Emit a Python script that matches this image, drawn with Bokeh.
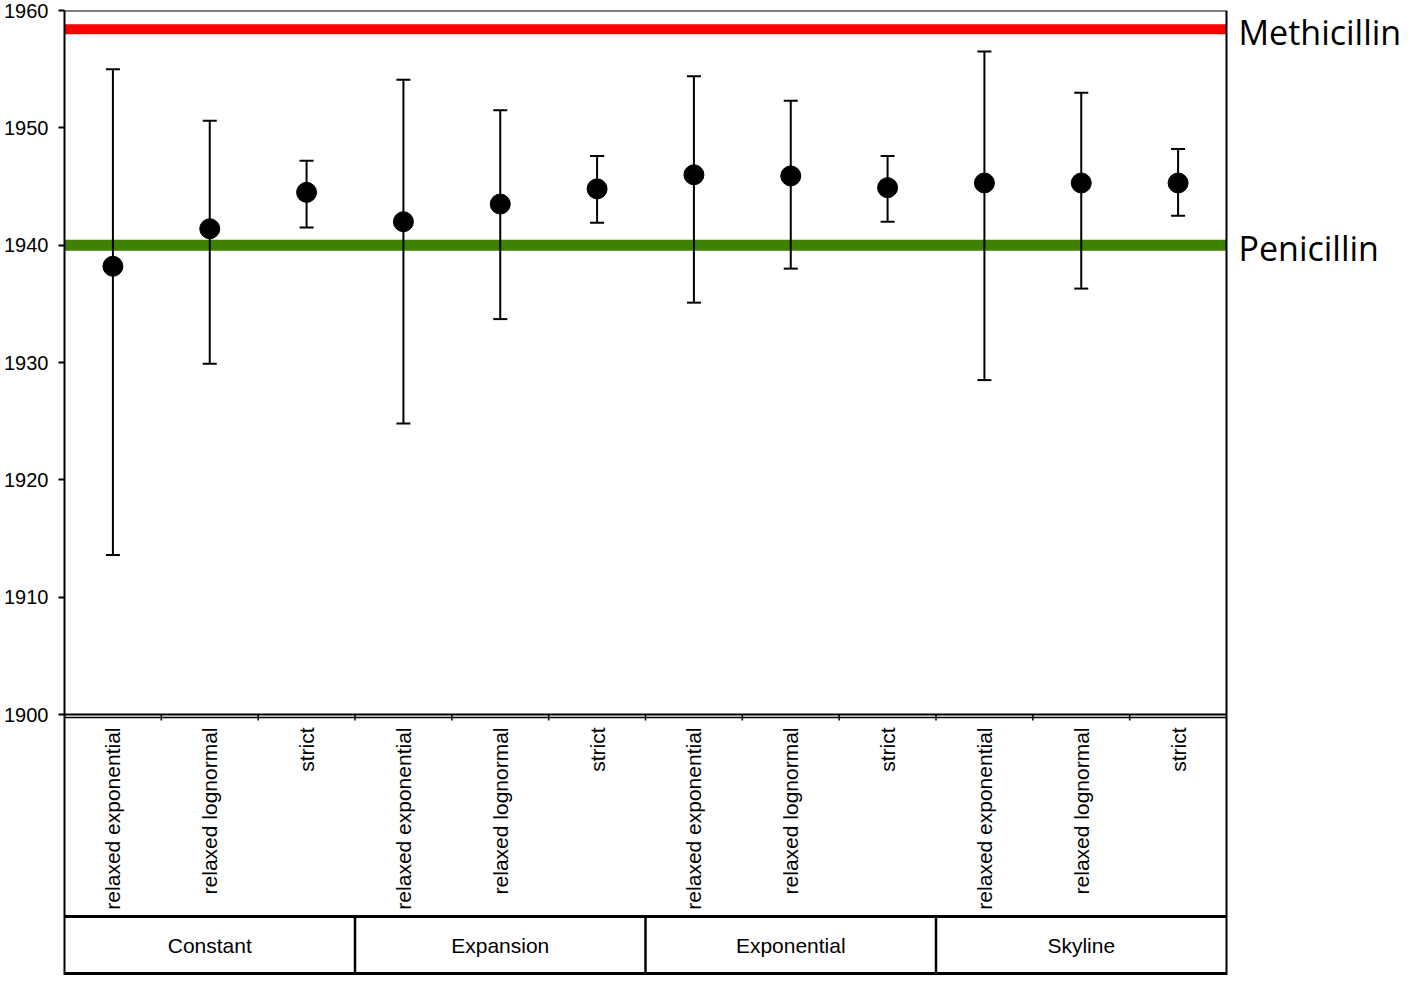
import math
from bokeh.plotting import figure
from bokeh.models import Range1d, ColumnDataSource, Whisker, TeeHead, FixedTicker
from bokeh.embed import file_html
from bokeh.resources import INLINE
from bokeh.core.properties import value

# ---------------- data ----------------
groups = ["Constant", "Expansion", "Exponential", "Skyline"]
clocks = ["relaxed exponential", "relaxed lognormal", "strict"]
tmrca = [1938.2, 1941.4, 1944.5, 1942.0, 1943.5, 1944.8,
         1946.0, 1945.9, 1944.9, 1945.3, 1945.3, 1945.3]
upper = [1955.0, 1950.6, 1947.2, 1954.1, 1951.5, 1947.6,
         1954.4, 1952.3, 1947.6, 1956.5, 1953.0, 1948.2]
lower = [1913.6, 1929.9, 1941.5, 1924.8, 1933.7, 1941.9,
         1935.1, 1938.0, 1942.0, 1928.5, 1936.3, 1942.5]
ref_names = ["Methicillin", "Penicillin"]
ref_years = [1958.4, 1940.0]
ref_colors = ["#ff0000", "#3f8000"]
y_ticks = [1900, 1910, 1920, 1930, 1940, 1950, 1960]

# ---------------- layout ----------------
W, H = 1402, 975
LEFT, TOP = 64, 10
PLOT_W, PLOT_H = 1162, 704
LABEL_ROW, BOTTOM_LINE = 202, 259
Y0, Y1 = y_ticks[0], y_ticks[-1]
n = len(groups) * len(clocks)
ppx = PLOT_W / n                  # px per category
ppy = PLOT_H / (Y1 - Y0)          # px per year
x_end = (W - LEFT) / ppx
y_start = Y1 - (H - TOP) / ppy


def below(px):
    """data-y of a point px pixels below the 1900 baseline"""
    return Y0 - px / ppy


FONT = value("Liberation Sans")

p = figure(width=W, height=H, x_range=Range1d(0, x_end), y_range=Range1d(y_start, Y1),
           output_backend="svg", toolbar_location=None, x_axis_location=None,
           min_border_left=LEFT, min_border_right=0, min_border_top=TOP, min_border_bottom=0,
           outline_line_color=None)
p.grid.grid_line_color = None
p.background_fill_color = "white"
p.border_fill_color = "white"

ax = p.yaxis[0]
ax.ticker = FixedTicker(ticks=y_ticks)
ax.axis_line_width = 2
ax.axis_line_color = "black"
ax.major_tick_line_width = 2
ax.major_tick_line_color = "black"
ax.major_tick_out = 6
ax.major_tick_in = 0
ax.minor_tick_line_color = None
ax.major_label_text_font = "Liberation Sans"
ax.major_label_text_font_size = "20px"
ax.major_label_text_color = "black"
ax.major_label_standoff = 10

# reference lines
for name, yr, col in zip(ref_names, ref_years, ref_colors):
    r = p.segment(x0=[0], x1=[n], y0=[yr], y1=[yr], line_color=col,
                  line_width=10 if col == "#ff0000" else 11)
    r.level = "underlay"
p.text(x=[n] * len(ref_names), y=ref_years, text=ref_names, x_offset=12, y_offset=3,
       text_font=value("Open Sans"), text_font_size="34px", text_color="black",
       text_align="left", text_baseline="middle")

# frame borders
p.segment(x0=[0], x1=[n], y0=[Y1], y1=[Y1], line_color="black", line_width=2)
p.segment(x0=[n], x1=[n], y0=[below(BOTTOM_LINE + 5)], y1=[Y1], line_color="black", line_width=2)

# data
xs = [i + 0.5 for i in range(n)]
src = ColumnDataSource(dict(x=xs, y=tmrca, upper=upper, lower=lower))
wh = Whisker(base="x", upper="upper", lower="lower", source=src, dimension="height",
             line_width=2, line_color="black",
             upper_head=TeeHead(size=14, line_width=2, line_color="black"),
             lower_head=TeeHead(size=14, line_width=2, line_color="black"))
wh.level = "annotation"
p.add_layout(wh)
p.scatter("x", "y", source=src, size=20, fill_color="black", line_color="black")

# category table below the plot
p.segment(x0=[0], x1=[n], y0=[Y0], y1=[Y0], line_color="black", line_width=2)
p.segment(x0=[0], x1=[n], y0=[below(3)], y1=[below(3)], line_color="black", line_width=1.5)
bounds = list(range(1, n))
p.segment(x0=bounds, x1=bounds, y0=[Y0] * len(bounds), y1=[below(6)] * len(bounds),
          line_color="black", line_width=1.5)
p.segment(x0=[0], x1=[n], y0=[below(LABEL_ROW)], y1=[below(LABEL_ROW)],
          line_color="black", line_width=3)
gb = [len(clocks) * k for k in range(1, len(groups))]
p.segment(x0=gb, x1=gb, y0=[below(LABEL_ROW)] * len(gb), y1=[below(BOTTOM_LINE + 5)] * len(gb),
          line_color="black", line_width=2.5)
p.segment(x0=[0], x1=[n], y0=[below(BOTTOM_LINE)], y1=[below(BOTTOM_LINE)],
          line_color="black", line_width=3)

cat_labels = [c for g in groups for c in clocks]
p.text(x=xs, y=[Y0] * n, text=cat_labels, angle=math.pi / 2, y_offset=13,
       text_align="right", text_baseline="middle", text_font=FONT,
       text_font_size="21px", text_color="black")
gx = [len(clocks) * k + len(clocks) / 2 for k in range(len(groups))]
p.text(x=gx, y=[below((LABEL_ROW + BOTTOM_LINE) / 2)] * len(groups), text=groups,
       text_align="center", text_baseline="middle", text_font=FONT,
       text_font_size="21px", text_color="black")

open("out.html", "w").write(file_html(p, INLINE))
